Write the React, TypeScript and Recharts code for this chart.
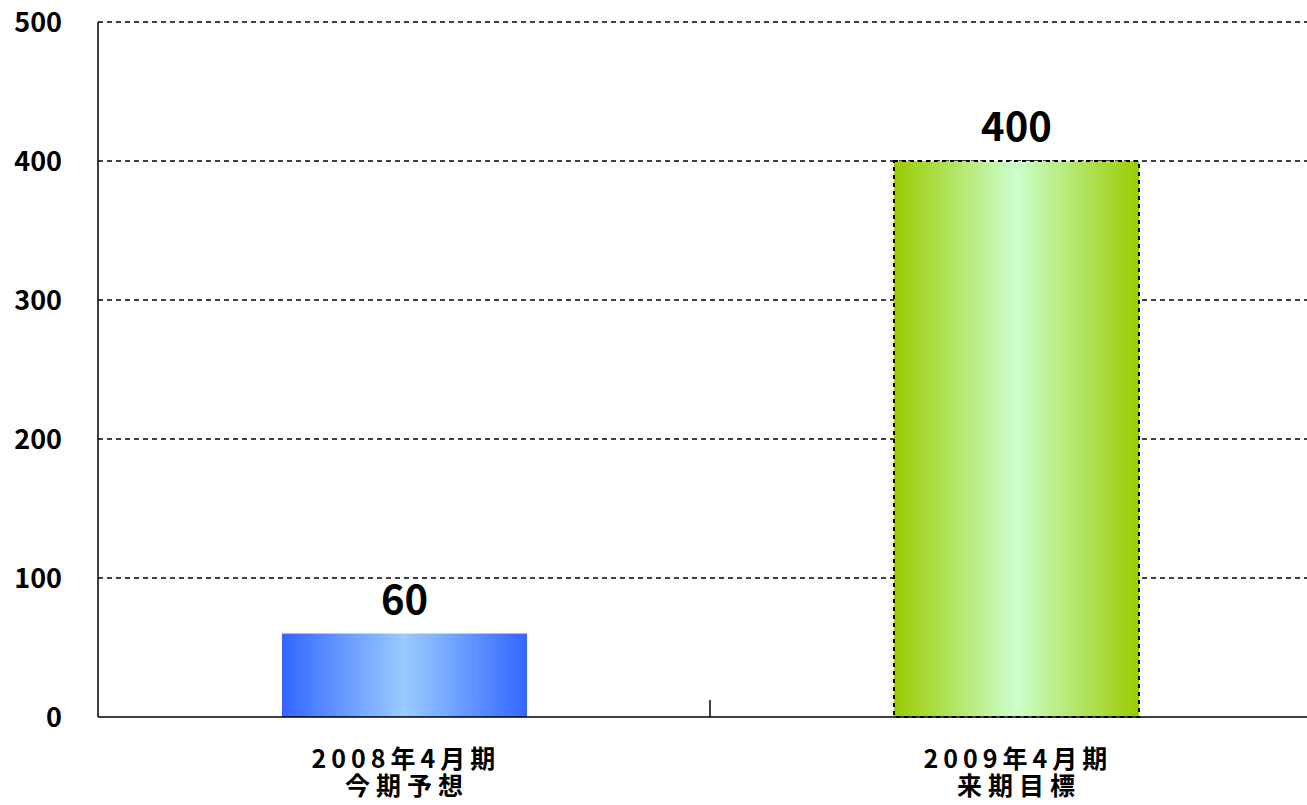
import React from "react";
import {
  BarChart,
  Bar,
  XAxis,
  YAxis,
  CartesianGrid,
  Cell,
  LabelList,
} from "recharts";

const categories = ["2008年4月期", "2009年4月期"];
const subLabels = ["今期予想", "来期目標"];
const values = [60, 400];
const yTicks = [0, 100, 200, 300, 400, 500];

const data = categories.map((c, i) => ({ name: c, sub: subLabels[i], value: values[i] }));

const FONT = "'Noto Sans CJK JP', 'Noto Sans', sans-serif";

const CategoryTick = (props: any) => {
  const { x, y, payload, index, width, visibleTicksCount } = props;
  const sub = subLabels[index] ?? "";
  const count = visibleTicksCount || categories.length;
  const band = width / count;
  const showSep = index < count - 1;
  return (
    <g>
      {showSep && (
        <line
          x1={x + band / 2}
          x2={x + band / 2}
          y1={y}
          y2={y - 17}
          stroke="#000"
          strokeWidth={1.5}
        />
      )}
      <text
        x={x}
        y={y}
        textAnchor="middle"
        fontFamily={FONT}
        fontWeight="bold"
        fontSize={25}
        fill="#000"
      >
        <tspan x={x + 2} dy={51} letterSpacing={5}>{payload.value}</tspan>
        <tspan x={x + 3} dy={27} letterSpacing={6}>{sub}</tspan>
      </text>
    </g>
  );
};

export default function App() {
  return (
    <div
      style={{
        position: "absolute",
        left: 0,
        top: 0,
        width: 1307,
        height: 805,
        overflow: "hidden",
        background: "#fff",
      }}
    >
      <BarChart
        width={1322}
        height={805}
        data={data}
        margin={{ top: 22, right: 0, left: 0, bottom: 0 }}
        barSize={245}
      >
        <defs>
          <linearGradient id="blueGrad" x1="0" y1="0" x2="1" y2="0">
            <stop offset="0%" stopColor="#3366ff" />
            <stop offset="50%" stopColor="#99ccff" />
            <stop offset="100%" stopColor="#3366ff" />
          </linearGradient>
          <linearGradient id="greenGrad" x1="0" y1="0" x2="1" y2="0">
            <stop offset="0%" stopColor="#99cc00" />
            <stop offset="50%" stopColor="#ccffcc" />
            <stop offset="100%" stopColor="#99cc00" />
          </linearGradient>
        </defs>
        <CartesianGrid
          vertical={false}
          stroke="#000"
          strokeWidth={1.5}
          strokeDasharray="5 4"
          horizontalValues={[100, 200, 300, 400, 500]}
        />
        <XAxis
          dataKey="name"
          height={88}
          axisLine={{ stroke: "#000", strokeWidth: 1.5 }}
          tickLine={false}
          tickSize={0}
          tickMargin={0}
          tick={<CategoryTick />}
          interval={0}
        />
        <YAxis
          width={98}
          domain={[0, 500]}
          ticks={yTicks}
          interval={0}
          axisLine={{ stroke: "#000", strokeWidth: 1.5 }}
          tickLine={false}
          tickSize={0}
          tickMargin={36}
          tick={{
            fill: "#000",
            fontSize: 27,
            fontWeight: "bold",
            fontFamily: FONT,
          }}
        />
        <Bar dataKey="value" isAnimationActive={false}>
          {data.map((d, i) => (
            <Cell
              key={d.name}
              fill={i === 0 ? "url(#blueGrad)" : "url(#greenGrad)"}
              stroke={i === 0 ? "none" : "#000"}
              strokeWidth={i === 0 ? 0 : 2}
              strokeDasharray={i === 0 ? undefined : "4 4"}
            />
          ))}
          <LabelList
            dataKey="value"
            position="top"
            offset={20}
            fill="#000"
            fontSize={40}
            fontWeight="bold"
            fontFamily={FONT}
          />
        </Bar>
      </BarChart>
    </div>
  );
}
